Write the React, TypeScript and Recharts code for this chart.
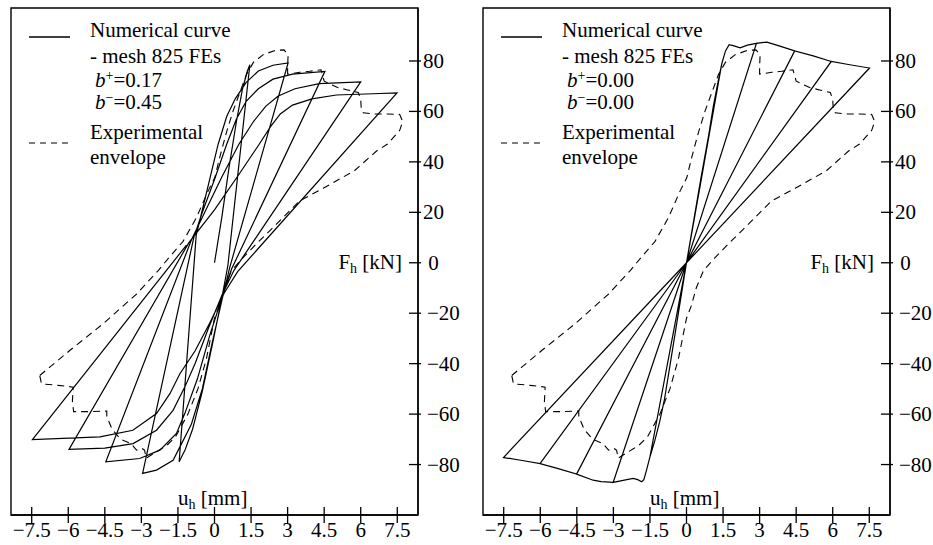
import React from 'react';
import { LineChart, Line, XAxis, YAxis, ReferenceArea } from 'recharts';

// ---------- axes ----------
const xTicks = [-7.5, -6, -4.5, -3, -1.5, 0, 1.5, 3, 4.5, 6, 7.5];
const yTicks = [-80, -60, -40, -20, 0, 20, 40, 60, 80];
const X_DOMAIN: [number, number] = [-8.35, 8.35];
const Y_DOMAIN: [number, number] = [-100, 101];

// ---------- experimental envelope (same in both panels) ----------
const envelopePts: number[][] = [
  [-7.17, -44.7], [-6.76, -41.4], [-5.94, -34.8], [-4.57, -24.2], [-3.2, -12.4], [-2.3, -3],
  [-1.83, 2.5], [-1.29, 8.5], [-0.74, 17.9], [-0.26, 28.5], [0.01, 33.7], [0.22, 42], [0.5, 52],
  [0.76, 60.1], [1.04, 67.5], [1.31, 74.6], [1.6, 79.5], [2.0, 82.5], [2.5, 84.2], [2.85, 84.4],
  [3.02, 82.5], [3.0, 77.5], [3.0, 74.8], [3.5, 75.5], [3.9, 75.9], [4.37, 76.5], [4.5, 72],
  [4.75, 70.8], [5.05, 69.5], [5.46, 68.5], [5.9, 67.5], [6.0, 64.7], [6.02, 61.4], [6.1, 59.5],
  [6.5, 59], [7.1, 59], [7.6, 58.8], [7.72, 56], [7.6, 52.5], [7.1, 47.1], [6.65, 44.3],
  [5.74, 36.5], [4.46, 29.5], [3.5, 24.6], [2.54, 15.3], [1.72, 7.5], [1.17, 2.0], [0.7, -3],
  [0.4, -10], [0.2, -17], [0.0, -22], [-0.33, -38], [-0.68, -50], [-1.09, -60], [-1.42, -65.8],
  [-1.6, -69], [-1.97, -72.5], [-2.4, -75], [-2.8, -77.5], [-2.87, -74.3], [-3.0, -73.5],
  [-3.2, -74.3], [-3.42, -71.7], [-3.85, -70], [-4.2, -66], [-4.42, -61], [-4.42, -58.8],
  [-5.06, -59], [-5.78, -59], [-5.83, -55], [-5.8, -49.3], [-6.42, -48.6], [-7.1, -48], [-7.17, -44.7],
];

// ---------- left panel numerical curve (b+=0.17, b-=0.45) ----------
const leftInit = [[0, 0], [0.3, 18], [0.6, 38], [0.9, 56], [1.15, 69], [1.35, 76], [1.45, 78.5]];
const leftNegA = [[0.55, -1], [0.3, -14], [-0.1, -33], [-0.5, -51], [-0.9, -66], [-1.2, -74], [-1.45, -78.9]];
const leftPosB = [[-0.75, 11], [-0.5, 21], [-0.2, 33], [0.15, 47], [0.5, 58], [0.85, 65], [1.3, 71.5], [1.8, 76], [2.4, 78.3], [3.02, 79.2]];
const leftNegB = [[0.62, -2], [0.3, -15], [-0.1, -32], [-0.5, -50], [-0.95, -64], [-1.35, -71.7], [-1.7, -78.3], [-2.38, -82.2], [-2.95, -83.5]];
const leftPosC = [[-0.85, 10], [-0.5, 20], [0, 33], [0.5, 47], [0.9, 57], [1.3, 64], [1.8, 69], [2.4, 72.8], [3.2, 74.8], [4.53, 75.9]];
const leftNegC = [[0.7, -2.5], [0.3, -14], [-0.2, -29], [-0.7, -46], [-1.22, -59.8], [-1.56, -67.7], [-2.24, -74.3], [-3.07, -77.6], [-4.46, -78.9]];
const leftPosD = [[-0.95, 9], [-0.4, 20], [0.3, 34], [1.0, 47], [1.6, 56], [2.1, 62], [2.6, 66], [3.3, 69], [4.3, 71], [6.0, 71.7]];
const leftNegD = [[0.8, -3], [0.3, -13], [-0.25, -26], [-0.8, -40], [-1.22, -49.3], [-1.7, -58.5], [-2.38, -66.4], [-3.34, -71.7], [-4.5, -73.5], [-5.97, -74]];
const leftPosE = [[-1.05, 8], [0, 21], [1, 35], [1.8, 46.5], [2.3, 54], [2.7, 59], [3.2, 62.5], [4, 65], [5, 66.5], [6.5, 67], [7.49, 67.3]];
const leftNegE = [[0.95, -3.5], [0.4, -12], [-0.2, -24], [-0.8, -35], [-1.42, -44], [-1.83, -51.9], [-2.38, -59.8], [-3.35, -66.4], [-4.7, -69], [-7.47, -70.1]];
const leftEnd = [[-1.15, 7]];

// ---------- right panel numerical curve (b+=0, b-=0) ----------
const rightPos1 = [[0, 0], [0.3, 17], [0.6, 34], [0.9, 50], [1.1, 62], [1.3, 72], [1.45, 79]];
const rightNeg1 = [[0, 0], [-0.3, -18], [-0.6, -36], [-0.9, -54], [-1.1, -63], [-1.3, -70.5], [-1.5, -77]];
const rightPos2 = [[0, 0], [1.45, 79], [1.6, 84], [1.75, 86.5], [1.95, 86], [2.2, 85.2], [2.5, 86.3], [2.87, 87]];
const rightNeg2 = [[0, 0], [-1.5, -77], [-1.64, -82.2], [-1.75, -86], [-1.84, -86.8], [-2.0, -86], [-2.19, -85.5], [-2.6, -86.3], [-3.01, -87.1]];
const rightPos3 = [[0, 0], [2.87, 87], [3.3, 87.5], [3.8, 86], [4.44, 84]];
const rightNeg3 = [[0, 0], [-3.01, -87.1], [-3.5, -86.8], [-3.83, -86.2], [-4.51, -83.8]];
const rightPos4 = [[0, 0], [4.44, 84], [5.2, 82], [5.94, 79.8]];
const rightNeg4 = [[0, 0], [-4.51, -83.8], [-5.3, -81.5], [-6.01, -79.6]];
const rightPos5 = [[0, 0], [5.94, 79.8], [6.7, 78.5], [7.51, 77.2]];
const rightNeg5 = [[0, 0], [-6.01, -79.6], [-6.8, -78.3], [-7.51, -77.2], [0, 0]];

const toPts = (arr: number[][]) => arr.map(([x, y]) => ({ x, y }));

const envelope = toPts(envelopePts);
const leftNumerical = toPts([
  ...leftInit, ...leftNegA, ...leftPosB, ...leftNegB, ...leftPosC, ...leftNegC,
  ...leftPosD, ...leftNegD, ...leftPosE, ...leftNegE, ...leftEnd,
]);
const rightNumerical = toPts([
  ...rightPos1, ...rightNeg1, ...rightPos2, ...rightNeg2, ...rightPos3, ...rightNeg3,
  ...rightPos4, ...rightNeg4, ...rightPos5, ...rightNeg5,
]);

const FONT = "'Liberation Serif', 'Times New Roman', Times, serif";
const TXT: React.CSSProperties = { fontFamily: FONT, fontSize: '21px' };
const SUB: React.CSSProperties = { fontFamily: FONT, fontSize: '14px' };
const fmt = (v: number) => (v < 0 ? '\u2212' + String(Math.abs(v)) : String(v));

const XTick = (props: any) => {
  const { x, y, payload } = props;
  return (
    <g>
      <line x1={x} x2={x} y1={y - 8} y2={y + 8} stroke="#000" strokeWidth={1.3} />
      <text x={x} y={y + 22} textAnchor="middle" style={TXT} fill="#000">
        {fmt(payload.value)}
      </text>
    </g>
  );
};

const YTick = (props: any) => {
  const { x, y, payload } = props;
  const v = payload.value;
  return (
    <g>
      <line x1={x - 9} x2={x + 3} y1={y} y2={y} stroke="#000" strokeWidth={1.3} />
      {v < 0 ? (
        <text x={x + 9} y={y + 7} textAnchor="start" style={TXT} fill="#000">
          {fmt(v)}
        </text>
      ) : (
        <text x={x + 15.5} y={y + 7} textAnchor="middle" style={TXT} fill="#000">
          {fmt(v)}
        </text>
      )}
    </g>
  );
};

function Panel({ left, numerical, bPlus, bMinus }: { left: number; numerical: any[]; bPlus: string; bMinus: string }) {
  return (
    <div style={{ position: 'absolute', left, top: 0, width: 466, height: 545 }}>
      <LineChart width={466} height={545} margin={{ top: 8, right: 0, bottom: 0, left: 11 }}>
        <XAxis
          type="number"
          dataKey="x"
          domain={X_DOMAIN}
          ticks={xTicks}
          interval={0}
          allowDataOverflow
          height={30}
          axisLine={{ stroke: '#000', strokeWidth: 1.4 }}
          tickLine={false}
          tickSize={0}
          tickMargin={0}
          tick={(p: any) => <XTick {...p} />}
        />
        <YAxis
          type="number"
          orientation="right"
          domain={Y_DOMAIN}
          ticks={yTicks}
          interval={0}
          allowDataOverflow
          width={48}
          axisLine={{ stroke: '#000', strokeWidth: 1.4 }}
          tickLine={false}
          tickSize={0}
          tickMargin={0}
          tick={(p: any) => <YTick {...p} />}
        />
        <ReferenceArea
          x1={X_DOMAIN[0]}
          x2={X_DOMAIN[1]}
          y1={Y_DOMAIN[0]}
          y2={Y_DOMAIN[1]}
          fill="none"
          fillOpacity={0}
          stroke="#000"
          strokeWidth={1.4}
          ifOverflow="visible"
        />
        <Line
          data={envelope}
          dataKey="y"
          type="linear"
          dot={false}
          activeDot={false}
          stroke="#000"
          strokeWidth={1.1}
          strokeDasharray="7 5"
          isAnimationActive={false}
        />
        <Line
          data={numerical}
          dataKey="y"
          type="linear"
          dot={false}
          activeDot={false}
          stroke="#000"
          strokeWidth={1.2}
          isAnimationActive={false}
        />
      </LineChart>
      <svg width={466} height={545} style={{ position: 'absolute', left: 0, top: 0, pointerEvents: 'none' }}>
        <g fill="#000">
          <line x1={29} x2={70} y1={37} y2={37} stroke="#000" strokeWidth={1.3} />
          <text x={90} y={37} style={TXT}>Numerical curve</text>
          <text x={90} y={63} style={TXT}>- mesh 825 FEs</text>
          <text x={95} y={87} style={TXT}>
            <tspan style={{ fontStyle: 'italic' }}>b</tspan>
            <tspan style={SUB} dy={-7}>+</tspan>
            <tspan dy={7}>{'=' + bPlus}</tspan>
          </text>
          <text x={95} y={109} style={TXT}>
            <tspan style={{ fontStyle: 'italic' }}>b</tspan>
            <tspan style={SUB} dy={-7}>{'\u2212'}</tspan>
            <tspan dy={7}>{'=' + bMinus}</tspan>
          </text>
          <line x1={29} x2={70} y1={143} y2={143} stroke="#000" strokeWidth={1.2} strokeDasharray="6 5" />
          <text x={90} y={139} style={TXT}>Experimental</text>
          <text x={90} y={164} style={TXT}>envelope</text>
          <text x={402} y={269} textAnchor="end" style={TXT}>
            F<tspan style={SUB} dy={4}>h</tspan>
            <tspan dy={-4}> [kN]</tspan>
          </text>
          <text x={178} y={505} style={TXT}>
            u<tspan style={SUB} dy={4}>h</tspan>
            <tspan dy={-4}> [mm]</tspan>
          </text>
        </g>
      </svg>
    </div>
  );
}

export default function App() {
  return (
    <div style={{ position: 'absolute', left: 0, top: 0, width: 933, height: 545, background: '#fff' }}>
      <Panel left={0} numerical={leftNumerical} bPlus="0.17" bMinus="0.45" />
      <Panel left={472} numerical={rightNumerical} bPlus="0.00" bMinus="0.00" />
    </div>
  );
}
